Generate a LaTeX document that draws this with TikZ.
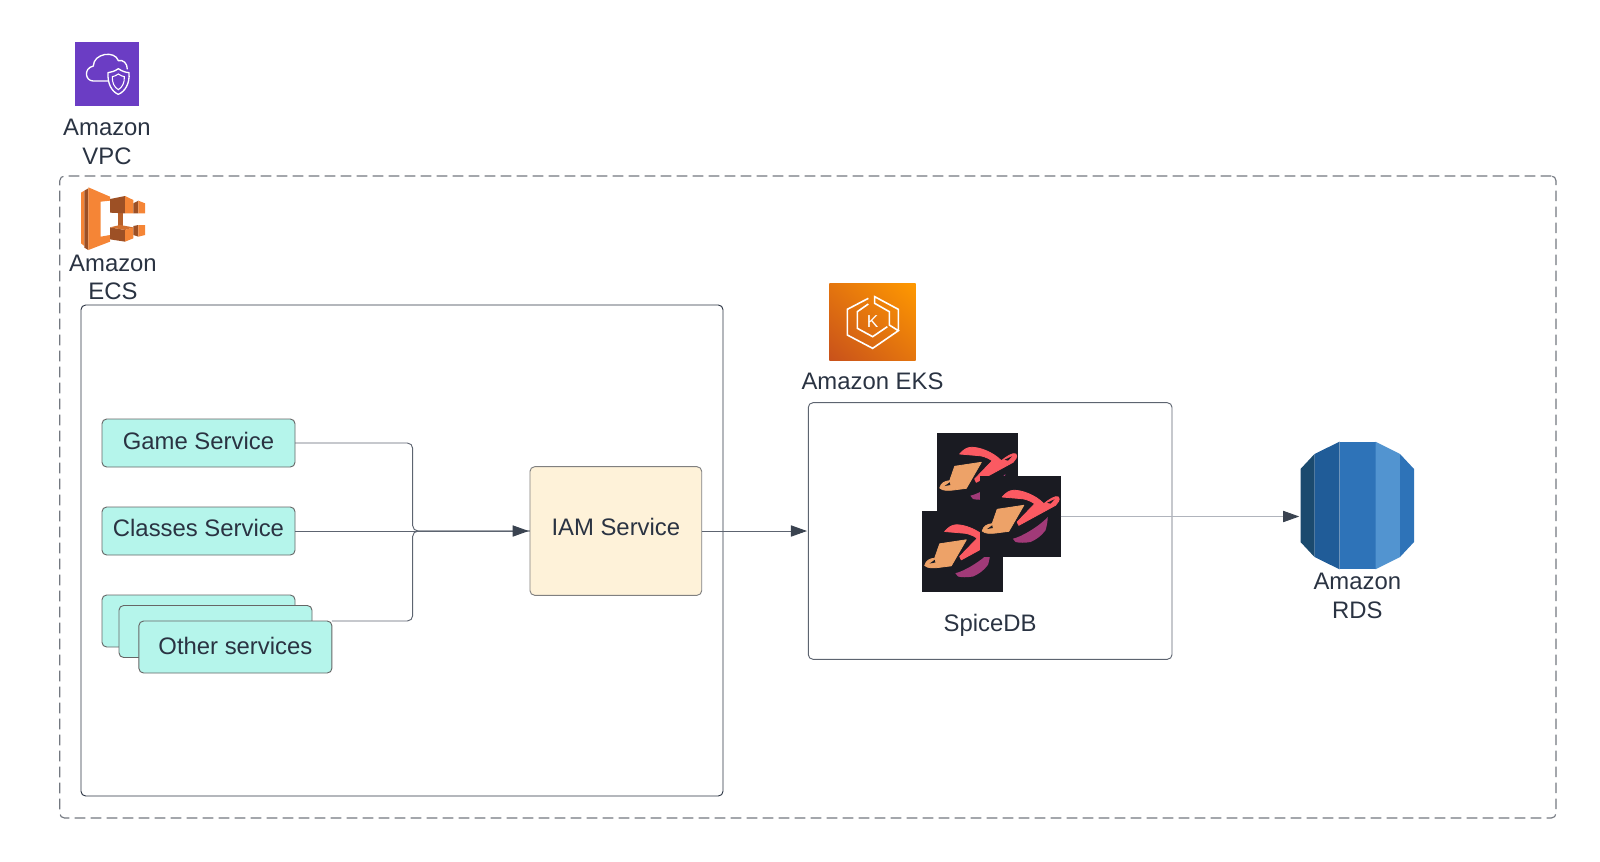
\documentclass[tikz,border=0pt]{standalone}
\usepackage{fontspec}
\setmainfont{Liberation Sans}
\usetikzlibrary{positioning}
\usetikzlibrary{arrows.meta}
\usetikzlibrary{shadings}
\definecolor{ink}{HTML}{2A3342}
\definecolor{tipc}{HTML}{3A4350}
\definecolor{linec}{HTML}{5D6470}
\definecolor{dashc}{HTML}{737880}
\definecolor{paleline}{HTML}{B0B4BC}
\definecolor{svcfill}{HTML}{B5F5EB}
\definecolor{iamfill}{HTML}{FEF2D9}
\definecolor{vpcc}{HTML}{6B3DC4}
\definecolor{ecsa}{HTML}{F58536}
\definecolor{ecsb}{HTML}{9D5025}
\definecolor{tile}{HTML}{1A1B22}
\definecolor{spred}{HTML}{FB5A62}
\definecolor{sporange}{HTML}{EDA268}
\definecolor{sppurple}{HTML}{A13A78}
\definecolor{ekslow}{HTML}{C8511B}
\definecolor{ekshigh}{HTML}{FF9900}
\definecolor{eksmid}{HTML}{E4750E}
\definecolor{rdsa}{HTML}{1B4A6E}
\definecolor{rdsb}{HTML}{205C98}
\definecolor{rdsc}{HTML}{2E73B8}
\definecolor{rdsd}{HTML}{5294D0}
\tikzset{spicelogo/.pic={
    \filldraw[spred, line width=0.6pt, line join=round] (22.7,21) .. controls (26,17) and (30,14.3) .. (34.3,14.3)
        .. controls (42,14) and (56,19) .. (64.3,27.7) .. controls (69,24) and (76,19) .. (79,21)
        .. controls (81,24) and (78,27) .. (76,29.3) -- (39.3,49.3) -- (37.7,46) -- (55.3,27.7)
        .. controls (50,24) and (44,22.7) .. (42.7,22.7) -- cycle;
    \fill[tile] (67.7,26.7) -- (75,23.3) -- (71,27.7) -- cycle;
    \filldraw[sporange, line width=0.6pt, line join=round] (44.3,29.3) -- (17.7,33.3) -- (12.7,47.7)
        .. controls (8,48) and (4,50) .. (2.7,55) .. controls (6,58) and (12,57.5) .. (16,57)
        -- (29.3,55.3) -- cycle;
    \fill[tile] (7.7,53) -- (12.7,49.3) -- (13.3,52) -- cycle;
    \fill[sppurple] (68.3,41) .. controls (68,47) and (67,51) .. (66,54.3) .. controls (62,60) and (56,64) .. (51,66)
        .. controls (45,67) and (40,67) .. (36,66) -- (33.3,62.7) .. controls (42,61) and (60,50) .. (68.3,41) -- cycle;
}}
\begin{document}
\begin{tikzpicture}[x=0.75pt,y=-0.75pt,
    lbl/.style={text=ink, align=center, inner sep=0pt, font=\fontsize{17.9}{21.4}\selectfont},
    plain/.style={draw=#1, rounded corners=3.5pt, outer sep=0pt, line width=0.7pt},
    svc/.style={plain={black!60}, fill=svcfill, minimum width=144.75pt, minimum height=36pt,
        text=ink, inner sep=0pt, text height=14pt, text depth=4.5pt, font=\fontsize{17.9}{21.4}\selectfont},
    link/.style={draw=linec, line width=0.7pt},
    flow/.style={link, shorten >=1pt,
        -{Triangle[length=12pt,width=8.4pt,color=tipc,fill=tipc]}},
    spice/.style={fill=tile, minimum size=60.75pt, inner sep=0pt, outer sep=0pt}]

    \useasboundingbox (0,0) rectangle (1600,861);

    \node[plain={dashc}, line width=0.85pt, dashed, dash pattern=on 8pt off 4pt, minimum width=1122.15pt, minimum height=481.5pt] (vpcbox) at (807.9,497) {};
    \node[plain={ink}, minimum width=481.5pt, minimum height=368.25pt] (ecsbox) at (402,550.5) {};
    \node[plain={linec}, minimum width=272.8pt, minimum height=192.45pt] (eksbox) at (990.15,531) {};

    \node[fill=vpcc, minimum size=48pt, inner sep=0pt, outer sep=0pt] (vpcicon) at (107,74) {};
    \node[lbl] (vpclabel) [below=9.75pt of vpcicon] {Amazon\\VPC};
    \begin{scope}[shift={(40,20)},x=0.25pt,y=-0.25pt]
        \draw[white, line width=1pt, line join=round] (205,183) -- (160,183) .. controls (135,183) and (130,145) .. (160,138)
            .. controls (160,100) and (225,90) .. (235,122) .. controls (250,118) and (262,130) .. (262,148);
        \draw[white, line width=1pt, line join=round] (235,146) .. controls (245,153) and (255,157) .. (267,158)
            .. controls (270,190) and (255,215) .. (235,223) .. controls (215,215) and (202,190) .. (204,158)
            .. controls (215,157) and (225,153) .. (235,146) -- cycle;
        \draw[white, line width=0.8pt] (235,162) .. controls (242,167) and (248,169) .. (253,170)
            .. controls (254,188) and (247,202) .. (235,209) .. controls (223,202) and (216,188) .. (217,170)
            .. controls (222,169) and (228,167) .. (235,162) -- cycle;
    \end{scope}

    \node[minimum width=48pt, minimum height=46pt, inner sep=0pt] (ecsicon) at (113,221) {};
    \node[lbl] (ecslabel) [below=2pt of ecsicon] {Amazon\\ECS};
    \begin{scope}[shift={(70,180)},x=0.25pt,y=-0.25pt]
        \fill[ecsa] (33,38) -- (43,32) -- (43,198) -- (33,190) -- cycle;
        \fill[ecsb] (43,32) -- (55,25) -- (55,210) -- (43,203) -- cycle;
        \fill[ecsa] (55,22) -- (120,50) -- (120,62) -- (92,65) -- (92,170) -- (120,165) -- (120,185) -- (55,210) -- cycle;
        \fill[ecsb!70!ecsa] (143,98) rectangle (160,140);
        \fill[ecsb] (120,57) -- (165,48) -- (165,100) -- (120,98) -- cycle;
        \fill[ecsa] (165,48) -- (190,60) -- (190,100) -- (165,100) -- cycle;
        \fill[ecsb] (120,142) -- (165,150) -- (165,185) -- (120,178) -- cycle;
        \fill[ecsa] (165,150) -- (190,142) -- (190,175) -- (165,185) -- cycle;
        \fill[ecsb!40!ecsa] (120,142) -- (150,135) -- (190,142) -- (165,150) -- cycle;
        \fill[ecsb] (190,70) -- (205,62) -- (205,100) -- (190,100) -- cycle;
        \fill[ecsa] (205,62) -- (225,70) -- (225,100) -- (205,100) -- cycle;
        \fill[ecsb] (190,138) -- (205,135) -- (205,170) -- (190,165) -- cycle;
        \fill[ecsa] (205,135) -- (225,135) -- (225,165) -- (205,170) -- cycle;
    \end{scope}

    \node[svc] (game) at (198.5,443) {Game Service};
    \node[svc, text height=13.4pt] (classes) [below=30pt of game] {Classes Service};
    \node[svc, minimum height=39pt] (othera) at (198.5,621) {};
    \node[svc, minimum height=39pt] (otherb) at (215.5,631.5) {};
    \node[svc, minimum height=39pt, text height=16.2pt] (otherc) at (235.4,647) {Other services};

    \node[plain={black!50}, fill=iamfill, minimum width=128.8pt, minimum height=96.45pt,
        text=ink, inner sep=0pt, text height=10.5pt, text depth=4.5pt, font=\fontsize{17.9}{21.4}\selectfont] (iam) at (615.85,531) {IAM Service};

    \coordinate (jn) at (412.7,531);
    \draw[link, rounded corners=4pt] (game.east) -| (jn) -- (iam.west);
    \draw[link, rounded corners=4pt] (otherc.north east) -| (jn) -- (iam.west);
    \draw[flow] (classes.east) -- (iam.west);
    \draw[flow] (iam.east) -- (eksbox.west);

    \shade[lower left=ekslow, upper right=ekshigh, lower right=eksmid, upper left=eksmid] (829.3,283) rectangle (915.7,360.7);
    \node[minimum width=64.8pt, minimum height=58.3pt, inner sep=0pt] (eksicon) at (872.5,321.8) {};
    \node[lbl] (ekslabel) [below=8.75pt of eksicon] {Amazon EKS};
    \begin{scope}[shift={(780,270)},x=0.25pt,y=-0.25pt]
        \draw[white, line width=1.2pt, line join=miter] (265,85) -- (202,118) -- (202,195) -- (278,235) -- (355,182) -- (328,165) -- (328,125) -- (284,100) -- (284,80) -- (355,118) -- (355,180);
        \draw[white, line width=1.2pt, line join=miter] (265,102) -- (232,125) -- (232,175) -- (278,200) -- (322,170);
        \node[text=white, inner sep=0pt, font=\fontsize{13}{13}\selectfont] (ekstext) at (278,155) {K};
    \end{scope}

    \node[spice] (spicea) at (977.5,473.5) {};
    \pic at (spicea.north west) {spicelogo};
    \node[spice] (spicec) at (962.5,551) {};
    \pic at (spicec.north west) {spicelogo};
    \node[spice] (spiceb) at (1020,516.5) {};
    \pic at (spiceb.north west) {spicelogo};
    \node[lbl] (spicelabel) at (990,625) {SpiceDB};

    \node[minimum width=85.1pt, minimum height=95.7pt, inner sep=0pt, outer sep=0pt] (rds) at (1357.3,505.5) {};
    \fill[rdsa] (1300.5,469) -- (1314.5,454) -- (1314.5,557) -- (1300.5,542) -- cycle;
    \fill[rdsb] (1314.5,454) -- (1339.5,441.7) -- (1339.5,569.3) -- (1314.5,557) -- cycle;
    \fill[rdsc] (1339.5,441.7) rectangle (1375.5,569.3);
    \fill[rdsd] (1375.5,441.7) -- (1400,454) -- (1400,557) -- (1375.5,569.3) -- cycle;
    \fill[rdsc] (1400,454) -- (1414,469) -- (1414,542) -- (1400,557) -- cycle;
    \node[lbl] (rdslabel) [below=2.75pt of rds] {Amazon\\RDS};

    \draw[flow, draw=paleline] (spiceb.east) -- (spiceb.east -| rds.west);
\end{tikzpicture}
\end{document}
